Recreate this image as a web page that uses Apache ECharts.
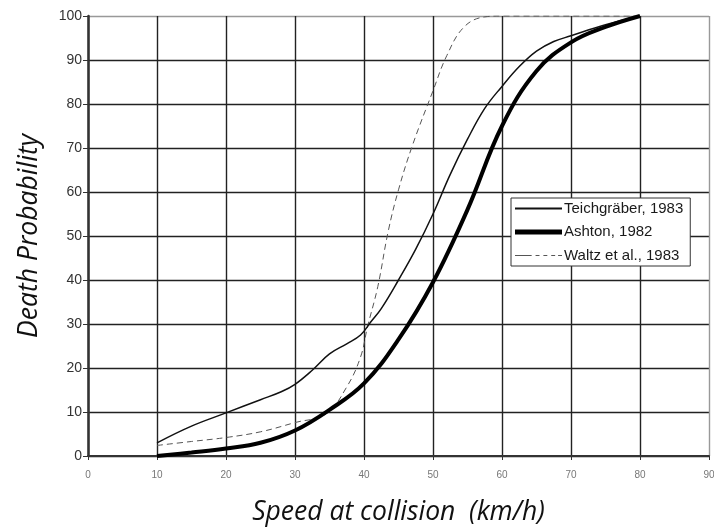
<!DOCTYPE html>
<html><head><meta charset="utf-8">
<script src="https://cdn.jsdelivr.net/npm/echarts@6/dist/echarts.min.js"></script>
<style>html,body{margin:0;padding:0;background:#fff}#c{width:714px;height:528px}</style>
</head><body><div id="c"></div>
<script>
const seriesNames = ['Teichgräber, 1983', 'Ashton, 1982', 'Waltz et al., 1983'];
const teichX = [10, 15, 20, 25, 28, 30, 32.5, 35, 37.5, 39.5, 41, 42.5, 45, 47.5, 50, 52.5, 55, 57.5, 60, 62.5, 65, 67.5, 70, 75, 80];
const teichY = [3, 6.8, 9.8, 12.8, 14.6, 16.3, 19.5, 23.2, 25.5, 27.5, 30.5, 33.5, 40, 47, 55, 64, 72, 79, 84, 88.5, 92, 94.2, 95.5, 98, 100];
const ashtonX = [10, 15, 20, 25, 30, 35, 40, 45, 50, 55, 60, 65, 70, 75, 80];
const ashtonY = [0, 0.8, 1.7, 3, 5.8, 10.5, 16.5, 26.5, 39.5, 56, 75, 87.5, 94, 97.5, 100];
const waltzX = [10, 15, 20, 25, 30, 34.5, 37.5, 39.5, 40.5, 42, 43.5, 45, 47, 50, 52, 54.5, 57.5, 60, 70, 80];
const waltzY = [2.4, 3.3, 4.2, 5.5, 7.6, 9.6, 15.7, 22.5, 29.3, 38.5, 51, 60.5, 70.5, 83, 91, 97.5, 99.8, 100, 100, 100];
const xTicks = {min: 0, max: 90, interval: 10};
const yTicks = {min: 0, max: 100, interval: 10};

const pair = (xs, ys) => xs.map((x, i) => [x, ys[i]]);
const yLineColors = [];
for (let v = yTicks.min; v <= yTicks.max; v += yTicks.interval) yLineColors.push(v === yTicks.max ? '#999' : '#222');
const xLineColors = [];
for (let v = xTicks.min; v <= xTicks.max; v += xTicks.interval) xLineColors.push(v === xTicks.max ? '#999' : '#222');

// legend icons (47 x 14 box, corner move-tos fix the bounding box)
const box = 'M0,0L0,0M47,14L47,14';
const iconSolidThin = 'path://' + box + 'M0,6L47,6L47,8L0,8Z';
const iconSolidThick = 'path://' + box + 'M0,4.5L47,4.5L47,9.5L0,9.5Z';
let dashPath = box + 'M0,6.5L17,6.5L17,7.5L0,7.5Z';
[21, 29, 37, 44].forEach(s => { dashPath += 'M' + s + ',6.5L' + (s + 4) + ',6.5L' + (s + 4) + ',7.5L' + s + ',7.5Z'; });
const iconDashed = 'path://' + dashPath;

const chart = echarts.init(document.getElementById('c'));
chart.setOption({
  animation: false,
  backgroundColor: '#fff',
  grid: {left: 88, right: 5, top: 16, bottom: 72, outerBoundsMode: 'none', containLabel: false},
  legend: {
    orient: 'vertical', left: 511, top: 198,
    backgroundColor: '#fff', borderColor: '#333', borderWidth: 1,
    padding: [3, 7, 3, 4], itemGap: 8.5, itemWidth: 47, itemHeight: 14,
    itemStyle: {borderWidth: 0},
    textStyle: {fontFamily: 'Liberation Sans', fontSize: 15, lineHeight: 14, color: '#1a1a1a', padding: [0, 0, 0, -3]},
    data: [
      {name: seriesNames[0], icon: iconSolidThin},
      {name: seriesNames[1], icon: iconSolidThick},
      {name: seriesNames[2], icon: iconDashed}
    ]
  },
  xAxis: {
    type: 'value', min: xTicks.min, max: xTicks.max, interval: xTicks.interval,
    name: 'Speed at collision  (km/h)', nameLocation: 'middle', nameGap: 43,
    nameTextStyle: {fontFamily: 'Open Sans', fontStyle: 'italic', fontSize: 26.5, color: '#111'},
    axisLine: {lineStyle: {color: '#333', width: 2}},
    axisTick: {show: true, length: 4, lineStyle: {color: '#333'}},
    axisLabel: {fontFamily: 'Liberation Sans', fontSize: 10, color: '#777', margin: 14},
    splitLine: {show: true, lineStyle: {color: xLineColors, width: 1.4}}
  },
  yAxis: {
    type: 'value', min: yTicks.min, max: yTicks.max, interval: yTicks.interval,
    name: 'Death Probability', nameLocation: 'middle', nameGap: 45,
    nameTextStyle: {fontFamily: 'Open Sans', fontStyle: 'italic', fontSize: 26.5, color: '#111'},
    axisLine: {show: true, lineStyle: {color: '#333', width: 2.5}},
    axisTick: {show: true, length: 5, lineStyle: {color: '#333'}},
    axisLabel: {fontFamily: 'Liberation Sans', fontSize: 14, color: '#333', margin: 6},
    splitLine: {show: true, lineStyle: {color: yLineColors, width: 1.4}}
  },
  series: [
    {name: seriesNames[0], type: 'line', data: pair(teichX, teichY), symbol: 'none', smooth: 0.4,
     lineStyle: {color: '#111', width: 1.5}, itemStyle: {color: '#111'}, z: 3},
    {name: seriesNames[1], type: 'line', data: pair(ashtonX, ashtonY), symbol: 'none', smooth: 0.4,
     lineStyle: {color: '#000', width: 4}, itemStyle: {color: '#000'}, z: 4},
    {name: seriesNames[2], type: 'line', data: pair(waltzX, waltzY), symbol: 'none', smooth: 0.4,
     lineStyle: {color: '#555', width: 1, type: [6, 4]}, itemStyle: {color: '#555'}, z: 2}
  ]
});
</script></body></html>
